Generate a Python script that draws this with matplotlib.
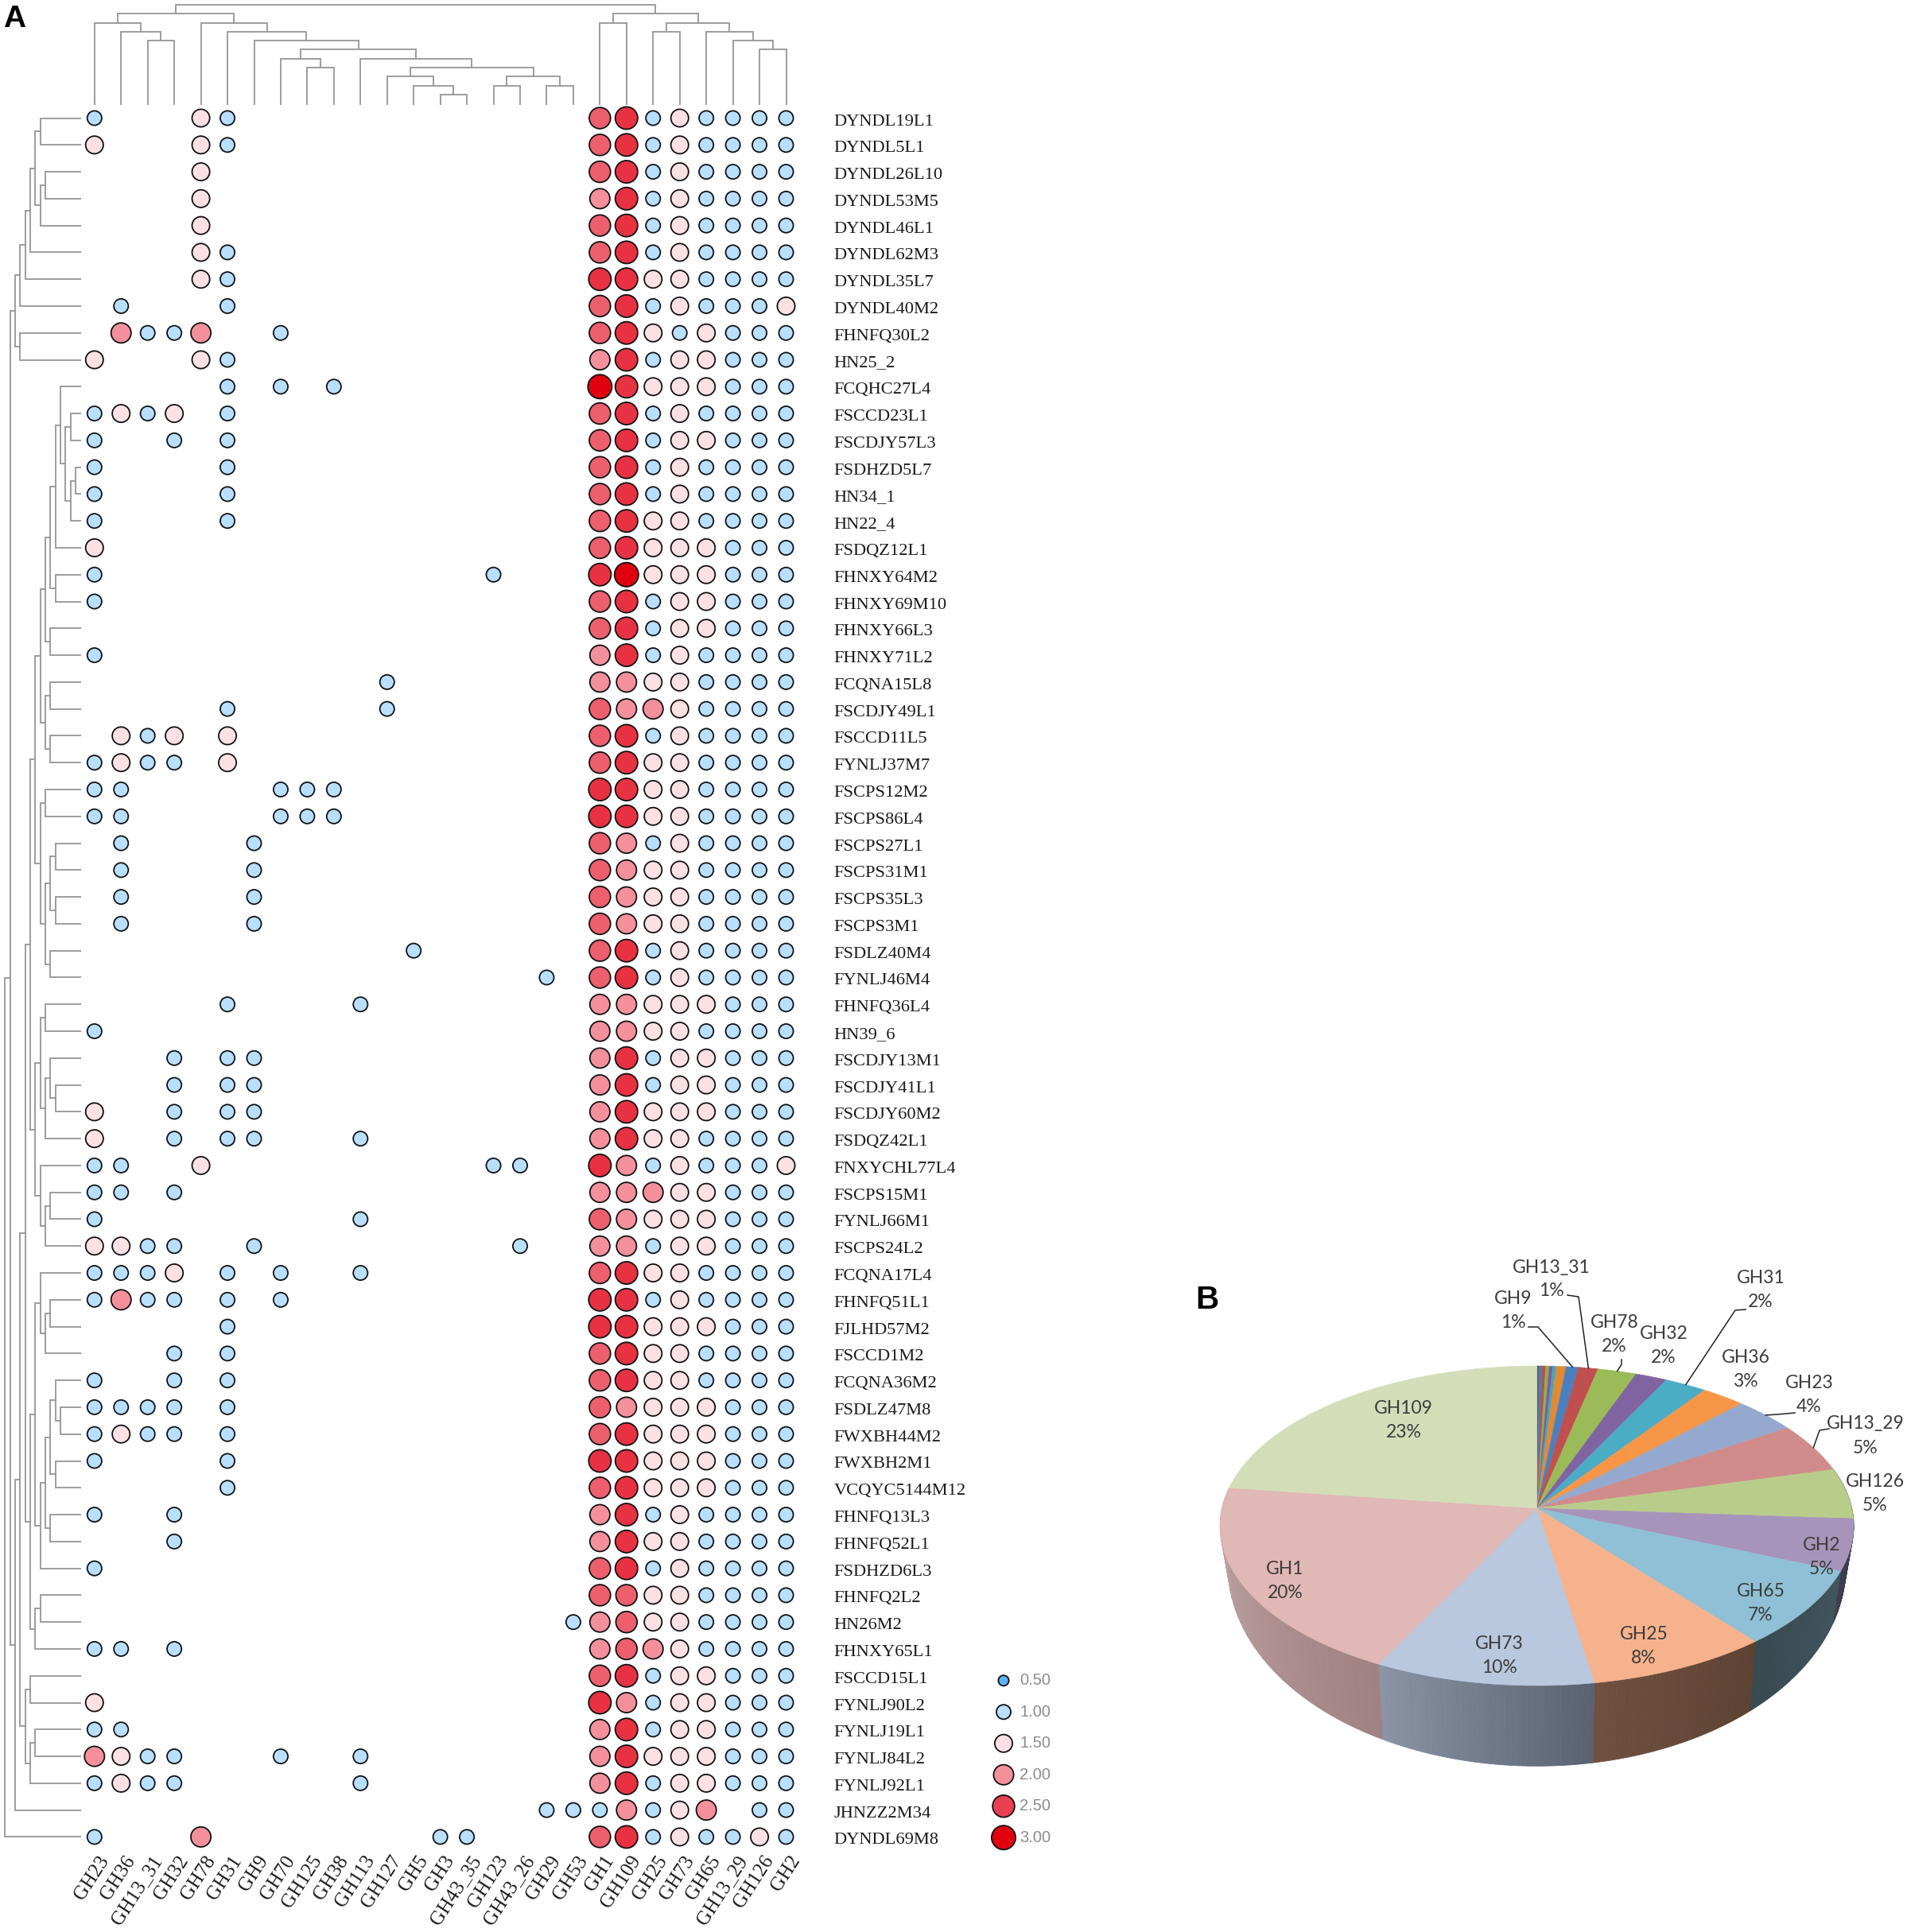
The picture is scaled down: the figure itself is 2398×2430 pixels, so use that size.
import numpy as np
import matplotlib
matplotlib.use("Agg")
import matplotlib.pyplot as plt
from matplotlib.colors import LinearSegmentedColormap, Normalize, to_rgb
from matplotlib.transforms import ScaledTranslation

W, H = 2398, 2430

column_names = ["GH23", "GH36", "GH13_31", "GH32", "GH78", "GH31", "GH9", "GH70", "GH125",
                "GH38", "GH113", "GH127", "GH5", "GH3", "GH43_35", "GH123", "GH43_26",
                "GH29", "GH53", "GH1", "GH109", "GH25", "GH73", "GH65", "GH13_29", "GH126", "GH2"]

row_names = ["DYNDL19L1", "DYNDL5L1", "DYNDL26L10", "DYNDL53M5", "DYNDL46L1", "DYNDL62M3", "DYNDL35L7",
             "DYNDL40M2", "FHNFQ30L2", "HN25_2", "FCQHC27L4", "FSCCD23L1", "FSCDJY57L3", "FSDHZD5L7",
             "HN34_1", "HN22_4", "FSDQZ12L1", "FHNXY64M2", "FHNXY69M10", "FHNXY66L3", "FHNXY71L2",
             "FCQNA15L8", "FSCDJY49L1", "FSCCD11L5", "FYNLJ37M7", "FSCPS12M2", "FSCPS86L4", "FSCPS27L1",
             "FSCPS31M1", "FSCPS35L3", "FSCPS3M1", "FSDLZ40M4", "FYNLJ46M4", "FHNFQ36L4", "HN39_6",
             "FSCDJY13M1", "FSCDJY41L1", "FSCDJY60M2", "FSDQZ42L1", "FNXYCHL77L4", "FSCPS15M1", "FYNLJ66M1",
             "FSCPS24L2", "FCQNA17L4", "FHNFQ51L1", "FJLHD57M2", "FSCCD1M2", "FCQNA36M2", "FSDLZ47M8",
             "FWXBH44M2", "FWXBH2M1", "VCQYC5144M12", "FHNFQ13L3", "FHNFQ52L1", "FSDHZD6L3", "FHNFQ2L2",
             "HN26M2", "FHNXY65L1", "FSCCD15L1", "FYNLJ90L2", "FYNLJ19L1", "FYNLJ84L2", "FYNLJ92L1",
             "JHNZZ2M34", "DYNDL69M8"]

# one letter per value level
code_values = {"b": 1.0, "p": 1.5, "k": 2.0, "m": 2.3, "r": 2.6, "t": 3.0}

# first 19 columns, sparse: "<column index><code>"
left_cells = ["0b 4p 5b", "0p 4p 5b", "4p", "4p", "4p", "4p 5b", "4p 5b", "1b 5b",
              "1k 2b 3b 4k 7b", "0p 4p 5b", "5b 7b 9b", "0b 1p 2b 3p 5b", "0b 3b 5b", "0b 5b",
              "0b 5b", "0b 5b", "0p", "0b 15b", "0b", "", "0b", "11b", "5b 11b", "1p 2b 3p 5p",
              "0b 1p 2b 3b 5p", "0b 1b 7b 8b 9b", "0b 1b 7b 8b 9b", "1b 6b", "1b 6b", "1b 6b", "1b 6b",
              "12b", "17b", "5b 10b", "0b", "3b 5b 6b", "3b 5b 6b", "0p 3b 5b 6b", "0p 3b 5b 6b 10b",
              "0b 1b 4p 15b 16b", "0b 1b 3b", "0b 10b", "0p 1p 2b 3b 6b 16b", "0b 1b 2b 3p 5b 7b 10b",
              "0b 1k 2b 3b 5b 7b", "5b", "3b 5b", "0b 3b 5b", "0b 1b 2b 3b 5b", "0b 1p 2b 3b 5b",
              "0b 5b", "5b", "0b 3b", "3b", "0b", "", "18b", "0b 1b 3b", "", "0p", "0b 1b",
              "0k 1p 2b 3b 7b 10b", "0b 1p 2b 3b 10b", "17b 18b", "0b 4k 13b 14b"]

# last 8 columns, GH1 to GH2
right_cells = ["mrbpbbbb", "mrbpbbbb", "mrbpbbbb", "krbpbbbb", "mrbpbbbb", "mrbpbbbb", "rrppbbbb", "mrbpbbbp",
               "mrpbpbbb", "krbppbbb", "trpppbbb", "mrbpbbbb", "mrbppbbb", "mrbpbbbb", "mrbpbbbb", "mrppbbbb",
               "mrpppbbb", "rtpppbbb", "mrbppbbb", "mrbppbbb", "krbpbbbb", "kkppbbbb", "mkkpbbbb", "mrbpbbbb",
               "mrppbbbb", "rrppbbbb", "rrppbbbb", "mkbpbbbb", "mkppbbbb", "mkppbbbb", "mkppbbbb", "mrbpbbbb",
               "mrbpbbbb", "kkpppbbb", "kkppbbbb", "krbppbbb", "krbppbbb", "krpppbbb", "krppbbbb", "rkbpbbbp",
               "kkkppbbb", "mkpppbbb", "kkbppbbb", "mrppbbbb", "rrbpbbbb", "rrpppbbb", "mrppbbbb", "mrppbbbb",
               "mkpppbbb", "mrpppbbb", "rrpppbbb", "mrpppbbb", "krbpbbbb", "krppbbbb", "mrbpbbbb", "mmppbbbb",
               "kmppbbbb", "kmkpbbbb", "mrbppbbb", "rkbppbbb", "krbppbbb", "krpppbbb", "krbppbbb", "bkbpk.bb",
               "mrbpbbpb"]

# dendrograms: (level, left, right), leaves are 1-based row / column numbers
rows_top = (2, (3, (4, (5, (6, (7, 1, 2), (7, (8, 3, 4), 5)), 6), 7), 8), (3, 9, 10))
rows_a1a = (8, (9, (10, (11, 11, (12, (13, 12, 13), (13, (14, 14, 15), 16))), 17), (10, 18, 19)), (9, 20, 21))
rows_a1b = (8, (9, 22, 23), (9, 24, 25))
rows_a1c = (7, (8, 26, 27), (8, (9, (10, 28, 29), (10, 30, 31)), (9, 32, 33)))
rows_a2 = (6, (7, (8, 34, 35), (8, (9, 36, (10, 37, 38)), 39)), (7, 40, (8, (9, 41, 42), 43)))
rows_a = (5, (6, (7, rows_a1a, rows_a1b), rows_a1c), rows_a2)
rows_b = (5, (6, (7, 44, (8, (9, 45, 46), 47)),
              (7, (8, (9, (10, 48, (11, 49, 50)), (10, 51, 52)), (9, 53, 54)), 55)),
          (6, (7, 56, 57), 58))
rows_c = (4, (5, 59, 60), (5, (6, 61, 62), 63))
row_tree = (0, (1, rows_top, (2, (3, (4, rows_a, rows_b), rows_c), 64)), 65)

cols_left = (1, (2, 1, (3, 2, (4, 3, 4))),
             (2, 5, (3, 6, (4, 7, (5, (6, 8, (7, 9, 10)),
                                   (6, 11, (7, (8, 12, (9, 13, (10, 14, 15))),
                                            (8, (9, 16, 17), (9, 18, 19)))))))))
cols_right = (1, (2, 20, 21), (2, (3, 22, 23), (3, 24, (4, 25, (5, 26, 27)))))
col_tree = (0, cols_left, cols_right)

legend_values = [0.5, 1.0, 1.5, 2.0, 2.5, 3.0]

# pie B, clockwise from the top
pie_names = ["", "", "", "", "", "", "", "GH9", "GH13_31", "GH78", "GH32", "GH31", "GH36", "GH23",
             "GH13_29", "GH126", "GH2", "GH65", "GH25", "GH73", "GH1", "GH109"]
pie_values = [0.15, 0.15, 0.2, 0.2, 0.2, 0.2, 0.55, 0.7, 1.1, 2.2, 1.8, 2.4, 2.5, 3.6,
              5.0, 5.1, 5.2, 7.8, 8.35, 10.1, 19.6, 22.9]
pie_percents = ["", "", "", "", "", "", "", "1%", "1%", "2%", "2%", "2%", "3%", "4%",
                "5%", "5%", "5%", "7%", "8%", "10%", "20%", "23%"]
pie_colors = ["#5f5f7a", "#4a7fb5", "#b5524f", "#8fae4f", "#7a5f9c", "#45a5bf", "#e08a35",
              "#4a80c0", "#c0504d", "#9bbb59", "#8064a2", "#4bacc6", "#f79646", "#95a9cf",
              "#d08c8a", "#b9cd8b", "#a794bb", "#8fc0d5", "#f6b28c", "#b9c7df", "#e0b8b6", "#d3deb9"]
wall_colors = {"GH126": ("#3c3c4a", "#3c3c4a"), "GH2": ("#3a3a48", "#3f3f50"), "GH65": ("#40545c", "#384a50"),
               "GH25": ("#5c4232", "#705040"), "GH73": ("#5a6270", "#8a94a6"), "GH1": ("#a08282", "#c6aaaa")}
label_spots = {"GH9": (1903, 1649), "GH13_31": (1951, 1609), "GH78": (2030, 1678), "GH32": (2092, 1693),
               "GH31": (2214, 1622), "GH36": (2195, 1723), "GH23": (2275, 1755), "GH13_29": (2346, 1806),
               "GH126": (2358, 1878), "GH2": (2291, 1959), "GH65": (2214, 2016), "GH25": (2067, 2071),
               "GH73": (1885, 2082), "GH1": (1616, 1989), "GH109": (1765, 1786)}
leader_starts = {"GH9": [(1922, 1669), (1934, 1669)], "GH13_31": [(1971, 1629), (1985, 1631)],
                 "GH78": [(2039, 1710), (2039, 1716)], "GH31": [(2195, 1647), (2182, 1648)],
                 "GH23": [(2257, 1777), (2235, 1779)], "GH13_29": [(2300, 1797), (2288, 1799)]}

fig = plt.figure(figsize=(W / 100, H / 100), dpi=100)
fig.patch.set_facecolor("white")


def px_axes(left, top, right, bottom):
    return fig.add_axes([left / W, 1 - bottom / H, (right - left) / W, (bottom - top) / H])


# main grid, cell centres land on the reference rows / columns
x0, dx = 118.8, 33.45
y0, dy = 148.5, 33.78
grid_left, grid_right = x0 - dx / 2, x0 + 26.5 * dx
grid_top, grid_bottom = y0 - dy / 2, y0 + 64.5 * dy

ax = px_axes(grid_left, grid_top, grid_right, grid_bottom)
ax.set_xlim(-0.5, 26.5)
ax.set_ylim(64.5, -0.5)
for s in ax.spines.values():
    s.set_visible(False)

stops = [(0.0, "#5cb3f2"), (0.2, "#b8dfff"), (0.4, "#fbe0e4"), (0.6, "#f4909c"), (0.8, "#ea3f50"), (1.0, "#e00010")]
cmap = LinearSegmentedColormap.from_list("gh", stops)
norm = Normalize(0.5, 3.0)


def marker_size(v):
    outer = np.interp(v, legend_values, [15, 20, 24, 27, 29.5, 32])
    return ((outer - 1.8) * 0.72) ** 2


xs, ys, vals = [], [], []
for r in range(len(row_names)):
    for cell in left_cells[r].split():
        xs.append(int(cell[:-1]))
        ys.append(r)
        vals.append(code_values[cell[-1]])
    for c, code in enumerate(right_cells[r]):
        if code != ".":
            xs.append(19 + c)
            ys.append(r)
            vals.append(code_values[code])
vals = np.array(vals)
ax.scatter(xs, ys, s=marker_size(vals), c=vals, cmap=cmap, norm=norm, edgecolors="#111111", linewidths=1.3, zorder=3)

serif = "Liberation Serif"
ax.yaxis.tick_right()
ax.set_yticks(range(len(row_names)), row_names, fontfamily=serif, fontsize=16.2, color="#1a1a1a")
ax.set_xticks(range(len(column_names)), column_names, fontfamily=serif, fontsize=18, color="#1a1a1a",
              rotation=57, ha="right", va="top", rotation_mode="anchor")
ax.tick_params(axis="y", length=0, pad=31)
ax.tick_params(axis="x", length=0, pad=2)
shift_x = ScaledTranslation(4 / 100, 0, fig.dpi_scale_trans)
for t in ax.get_xticklabels():
    t.set_transform(t.get_transform() + shift_x)
shift_y = ScaledTranslation(0, -2 / 100, fig.dpi_scale_trans)
for t in ax.get_yticklabels():
    t.set_transform(t.get_transform() + shift_y)


def draw_tree(axis, node, leaf_level, horizontal):
    # returns centre position and level of a node
    if not isinstance(node, tuple):
        return node - 1, leaf_level
    level, a, b = node
    pa, la = draw_tree(axis, a, leaf_level, horizontal)
    pb, lb = draw_tree(axis, b, leaf_level, horizontal)
    pos = [pa, pa, pb, pb]
    lev = [la, level, level, lb]
    if horizontal:
        axis.plot(lev, pos, color="#999999", lw=1.35, solid_joinstyle="miter")
    else:
        axis.plot(pos, lev, color="#999999", lw=1.35, solid_joinstyle="miter")
    return (pa + pb) / 2, level


# left tree, level 0 at 6.3 px and 6.33 px per level
left_ax = px_axes(0, grid_top, grid_left, grid_bottom)
left_end = grid_left / 6.33 - 1
left_ax.set_xlim(-1, left_end)
left_ax.set_ylim(64.5, -0.5)
left_ax.axis("off")
draw_tree(left_ax, row_tree, left_end, True)

# top tree, level 0 at 6 px and 11.28 px per level
top_ax = px_axes(grid_left, 0, grid_right, grid_top)
top_end = (grid_top - 6) / 11.28
top_ax.set_xlim(-0.5, 26.5)
top_ax.set_ylim(top_end, -6 / 11.28)
top_ax.axis("off")
draw_tree(top_ax, col_tree, top_end, False)

# size legend
leg = px_axes(1242, 2094, 1322, 2331)
leg.set_xlim(-20, 60)
leg.set_ylim(5.5, -0.5)
leg.axis("off")
lv = np.array(legend_values)
leg.scatter(np.zeros(len(lv)), range(len(lv)), s=marker_size(lv), c=lv, cmap=cmap, norm=norm,
            edgecolors="#111111", linewidths=1.3, clip_on=False)
for i, v in enumerate(legend_values):
    leg.text(20, i, f"{v:.2f}", fontsize=14.5, color="#8c8c8c", family="Liberation Sans", va="center")

# page axes in pixels for the drawn 3D pie
page = fig.add_axes([0, 0, 1, 1], facecolor="none")
page.set_xlim(0, W)
page.set_ylim(H, 0)
page.axis("off")
page.text(4, 34, "A", fontsize=28, fontweight="bold", family="Liberation Sans", color="black")
page.text(1503, 1646, "B", fontsize=29, fontweight="bold", family="Liberation Sans", color="black")

apex_x, apex_y = 1932.6, 1897.0
persp, b_y, a_x = 0.1095, 198.6, 396.0
rim_y0 = 1919.0


def top_rim(theta):
    # theta clockwise from the top of the pie, radians
    u, v = np.sin(theta), -np.cos(theta)
    w = 1 - persp * v
    return apex_x + a_x * u / w, apex_y + b_y * v / w


def low_rim(theta):
    x, y = top_rim(theta)
    return apex_x + (x - apex_x) * 0.975, 1970 + (y - rim_y0) * 1.25


fractions = np.array(pie_values) / np.sum(pie_values)
edges = np.concatenate([[0], np.cumsum(fractions)]) * 2 * np.pi

# side wall first, the top hides everything behind it
for i, name in enumerate(pie_names):
    if name not in wall_colors:
        continue
    c0, c1 = [np.array(to_rgb(c)) for c in wall_colors[name]]
    steps = np.linspace(edges[i], edges[i + 1], 41)
    for j in range(40):
        t = np.array([steps[j], steps[j + 1]])
        tx, ty = top_rim(t)
        lx, ly = low_rim(t)
        col = c0 + (c1 - c0) * j / 39
        page.fill(np.r_[tx, lx[::-1]], np.r_[ty, ly[::-1]], color=col, lw=0.6, zorder=2)

for i, color in enumerate(pie_colors):
    t = np.linspace(edges[i], edges[i + 1], 60)
    rx, ry = top_rim(t)
    page.fill(np.r_[apex_x, rx], np.r_[apex_y, ry], color=color, lw=0.4, zorder=3)

for i, name in enumerate(pie_names):
    if not name:
        continue
    x, y = label_spots[name]
    # name and percent as two texts, the label boxes up top sit very close
    page.text(x, y - 15, name, fontsize=16.5, family="Lato", color="#3c3c3c", ha="center", va="center", zorder=5)
    page.text(x, y + 15, pie_percents[i], fontsize=16.5, family="Lato", color="#3c3c3c", ha="center", va="center", zorder=5)
    if name in leader_starts:
        mid = (edges[i] + edges[i + 1]) / 2
        end = top_rim(mid)
        pts = leader_starts[name] + [(float(end[0]), float(end[1]))]
        page.plot(*zip(*pts), color="#222222", lw=1.1, zorder=4)

fig.savefig("out.png", dpi=100)
